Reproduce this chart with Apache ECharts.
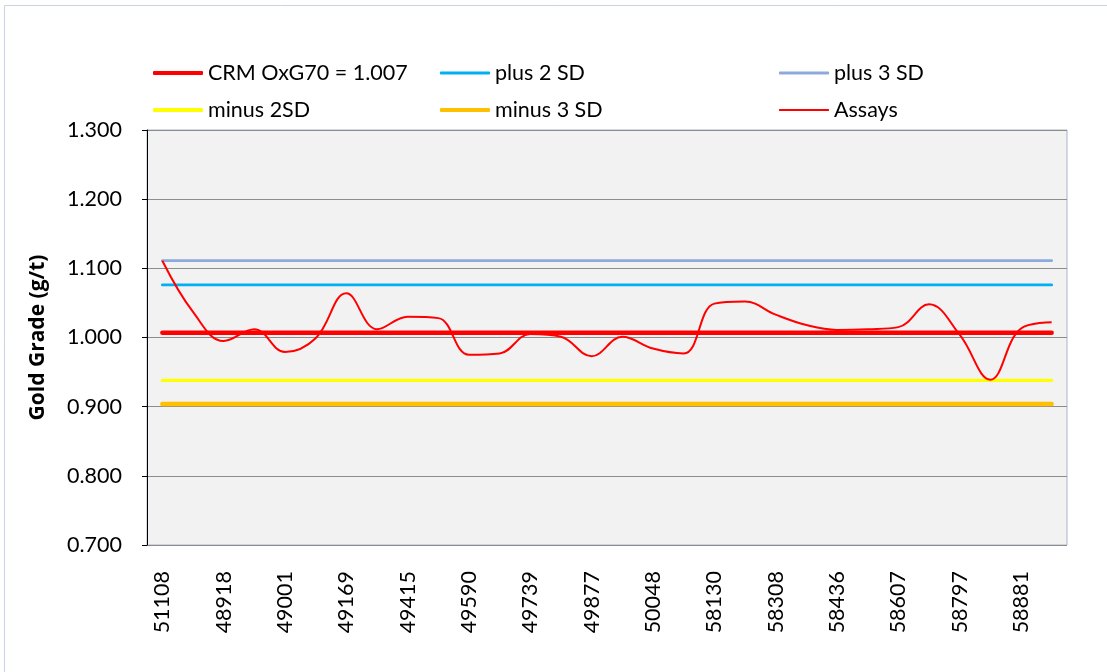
<!DOCTYPE html>
<html>
<head>
<meta charset="utf-8">
<script src="https://cdn.jsdelivr.net/npm/echarts@6/dist/echarts.min.js"></script>
<style>
  html, body { margin: 0; padding: 0; background: #fff; }
  #main { width: 1107px; height: 672px; }
</style>
</head>
<body>
<div id="main"></div>
<script>
// sample ids along the x axis (every second one is shown)
const sampleIds = [
  '51108', '48860', '48918', '48950', '49001', '49085', '49169', '49290',
  '49415', '49500', '49590', '49660', '49739', '49810', '49877', '49960',
  '50048', '58060', '58130', '58220', '58308', '58370', '58436', '58520',
  '58607', '58700', '58797', '58840', '58881', '58930'
];

// assay results, g/t
const assays = [
  1.111, 1.037, 0.995, 1.012, 0.979, 0.999, 1.064, 1.012, 1.030, 1.028,
  0.975, 0.977, 1.005, 1.001, 0.973, 1.001, 0.984, 0.977, 1.049, 1.052,
  1.033, 1.018, 1.011, 1.012, 1.015, 1.048, 1.004, 0.939, 1.013, 1.022
];

// control limits for the standard
const crmValue = 1.007;
const plus2SD = 1.076;
const plus3SD = 1.111;
const minus2SD = 0.938;
const minus3SD = 0.904;

const yTicks = { min: 0.7, max: 1.3, step: 0.1 };

const font = 'Lato, "Open Sans", sans-serif';

// a flat line across all samples
function flat(v) {
  return sampleIds.map(() => v);
}

function limitSeries(name, value, color, width) {
  return {
    name: name,
    type: 'line',
    data: flat(value),
    symbol: 'none',
    lineStyle: { color: color, width: width, cap: 'round' },
    itemStyle: { color: color },
    z: 2
  };
}

// one legend per entry so they sit like the excel layout
function legendAt(name, left, top, thick) {
  return {
    data: [name],
    left: left,
    top: top,
    padding: 0,
    icon: 'roundRect',
    itemWidth: 50,
    itemHeight: thick,
    textStyle: { fontFamily: font, fontSize: 21.5, color: '#000', lineHeight: 26 }
  };
}

const chart = echarts.init(document.getElementById('main'));
chart.setOption({
  animation: false,
  backgroundColor: '#fff',
  textStyle: { fontFamily: font },
  graphic: [{
    type: 'rect',
    shape: { x: 4.5, y: 5.5, width: 1120, height: 700 },
    style: { fill: 'none', stroke: '#C9D3E3', lineWidth: 1 },
    silent: true
  }],
  legend: [
    legendAt('CRM OxG70 = 1.007', 153, 60, 4),
    legendAt('plus 2 SD', 440, 60, 3),
    legendAt('plus 3 SD', 779, 60, 3),
    legendAt('minus 2SD', 153, 97, 4),
    legendAt('minus 3 SD', 440, 97, 4),
    legendAt('Assays', 779, 97, 2)
  ],
  grid: {
    left: 147,
    right: 40,
    top: 130,
    bottom: 127,
    show: true,
    backgroundColor: '#F2F2F2',
    borderColor: '#A9B6C8',
    borderWidth: 1
  },
  xAxis: {
    type: 'category',
    data: sampleIds,
    boundaryGap: true,
    axisLine: { show: false },
    axisTick: { show: false },
    axisLabel: {
      interval: 1,
      rotate: 90,
      margin: 26,
      fontFamily: font,
      fontSize: 21.5,
      color: '#000'
    },
    splitLine: { show: false }
  },
  yAxis: {
    type: 'value',
    min: yTicks.min,
    max: yTicks.max,
    interval: yTicks.step,
    name: 'Gold Grade (g/t)',
    nameLocation: 'middle',
    nameGap: 98,
    nameRotate: 90,
    nameTextStyle: { fontFamily: '"Open Sans", sans-serif', fontSize: 21, fontWeight: 'bold', color: '#000' },
    axisLine: { show: true, lineStyle: { color: '#000', width: 1 } },
    axisTick: { show: true, length: 5, lineStyle: { color: '#000' } },
    axisLabel: {
      margin: 25,
      fontFamily: font,
      fontSize: 21.5,
      color: '#000',
      formatter: v => v.toFixed(3)
    },
    splitLine: { show: true, lineStyle: { color: '#8C8C8C', width: 1 } }
  },
  series: [
    limitSeries('CRM OxG70 = 1.007', crmValue, '#FF0000', 4.5),
    limitSeries('plus 2 SD', plus2SD, '#00B0F0', 2.75),
    limitSeries('plus 3 SD', plus3SD, '#8EA9DB', 2.75),
    limitSeries('minus 2SD', minus2SD, '#FFFF00', 3.25),
    limitSeries('minus 3 SD', minus3SD, '#FFC000', 4.5),
    {
      name: 'Assays',
      type: 'line',
      data: assays,
      smooth: 0.4,
      symbol: 'none',
      lineStyle: { color: '#FF0000', width: 2 },
      itemStyle: { color: '#FF0000' },
      z: 3
    }
  ]
});
</script>
</body>
</html>
